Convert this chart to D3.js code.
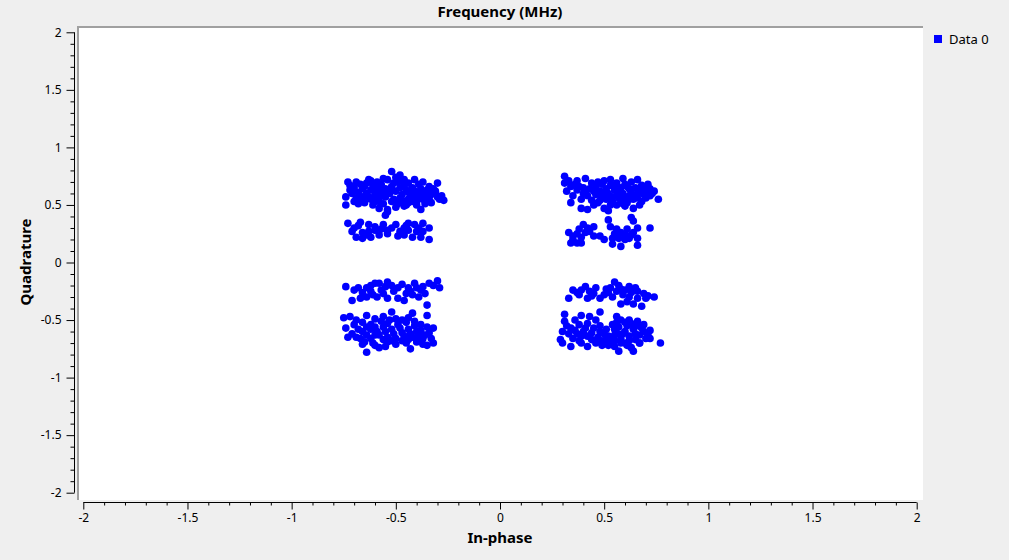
<!DOCTYPE html>
<html><head><meta charset="utf-8">
<script src="https://cdn.jsdelivr.net/npm/d3@7/dist/d3.min.js"></script>
<style>
html,body{margin:0;padding:0;background:#efefef;}
svg{display:block;}
text{font-family:"Noto Sans","DejaVu Sans",sans-serif;fill:#000;}
</style></head><body>
<svg id="chart" width="1009" height="560"></svg>
<script>
// ---- data ----
const title = "Frequency (MHz)";
const xLabel = "In-phase";
const yLabel = "Quadrature";
const seriesName = "Data 0";
const majorTicks = [-2, -1.5, -1, -0.5, 0, 0.5, 1, 1.5, 2];
const tickLabels = ["-2", "-1.5", "-1", "-0.5", "0", "0.5", "1", "1.5", "2"];

// In-phase / Quadrature pairs, grouped by constellation sub-cluster
const clusterTopLeftUpper = [[-0.52,0.79],[-0.48,0.76],[-0.46,0.72],[-0.73,0.70],[-0.74,0.57],[-0.74,0.50],[-0.72,0.63],[-0.69,0.70],[-0.63,0.72],[-0.59,0.70],[-0.54,0.72],[-0.41,0.72],[-0.37,0.70],[-0.30,0.69],[-0.31,0.60],[-0.27,0.54],[-0.30,0.57],[-0.68,0.51],[-0.61,0.50],[-0.58,0.47],[-0.46,0.49],[-0.38,0.46],[-0.40,0.50],[-0.54,0.46],[-0.55,0.41],[-0.54,0.44],
[-0.67,0.68],[-0.64,0.69],[-0.61,0.67],[-0.57,0.68],[-0.51,0.69],[-0.49,0.70],[-0.44,0.69],[-0.39,0.68],[-0.34,0.66],
[-0.70,0.65],[-0.66,0.64],[-0.62,0.63],[-0.58,0.65],[-0.55,0.64],[-0.52,0.66],[-0.48,0.65],[-0.45,0.63],[-0.42,0.65],[-0.38,0.64],[-0.35,0.63],[-0.32,0.64],
[-0.71,0.60],[-0.68,0.61],[-0.64,0.60],[-0.60,0.59],[-0.57,0.61],[-0.53,0.60],[-0.50,0.62],[-0.47,0.59],[-0.44,0.61],[-0.40,0.60],[-0.37,0.61],[-0.33,0.59],[-0.28,0.58],
[-0.69,0.56],[-0.66,0.57],[-0.62,0.55],[-0.58,0.56],[-0.55,0.57],[-0.51,0.55],[-0.48,0.56],[-0.44,0.55],[-0.41,0.57],[-0.37,0.55],[-0.34,0.56],
[-0.70,0.53],[-0.65,0.52],[-0.60,0.53],[-0.56,0.51],[-0.52,0.53],[-0.49,0.51],[-0.44,0.52],[-0.40,0.53],[-0.36,0.51],[-0.33,0.52],
[-0.50,0.74],[-0.56,0.73],[-0.45,0.50],[-0.50,0.48],[-0.62,0.71],
[-0.72,0.67],[-0.65,0.66],[-0.59,0.62],[-0.55,0.60],[-0.46,0.67],[-0.43,0.58],[-0.39,0.57],[-0.36,0.59],[-0.31,0.62],[-0.63,0.57],[-0.53,0.63],[-0.47,0.54],[-0.42,0.53],[-0.58,0.53],[-0.67,0.54],[-0.35,0.54],[-0.48,0.72],[-0.60,0.65],[-0.41,0.62],[-0.29,0.55]];
const clusterTopLeftLower = [[-0.73,0.34],[-0.70,0.30],[-0.67,0.35],[-0.69,0.22],[-0.66,0.21],[-0.63,0.33],[-0.63,0.27],[-0.60,0.28],[-0.56,0.33],[-0.54,0.28],[-0.58,0.24],[-0.50,0.33],[-0.48,0.27],[-0.46,0.24],[-0.44,0.34],[-0.41,0.33],[-0.40,0.27],[-0.42,0.22],[-0.37,0.34],[-0.37,0.27],[-0.34,0.30],[-0.34,0.20],[-0.38,0.22],[-0.54,0.25],[-0.46,0.30],
[-0.66,0.26],[-0.62,0.22],[-0.52,0.30],[-0.44,0.28],[-0.71,0.27],[-0.57,0.29],[-0.49,0.23],
[-0.68,0.32],[-0.60,0.31],[-0.45,0.32],[-0.39,0.30],[-0.64,0.24]];
const clusterTopRightUpper = [[0.31,0.75],[0.31,0.69],[0.32,0.62],[0.35,0.58],[0.34,0.52],[0.37,0.71],[0.41,0.73],[0.44,0.69],[0.40,0.65],[0.39,0.47],[0.42,0.46],[0.45,0.50],[0.50,0.47],[0.52,0.45],[0.50,0.71],[0.53,0.72],[0.59,0.73],[0.66,0.72],[0.71,0.68],[0.74,0.62],[0.76,0.55],[0.70,0.56],[0.67,0.50],[0.64,0.47],[0.60,0.49],[0.56,0.50],
[0.34,0.66],[0.37,0.63],[0.43,0.64],[0.46,0.66],[0.49,0.68],[0.53,0.67],[0.56,0.69],[0.60,0.68],[0.63,0.70],[0.68,0.67],
[0.36,0.68],[0.48,0.62],[0.51,0.64],[0.55,0.63],[0.58,0.65],[0.62,0.64],[0.65,0.65],[0.69,0.63],[0.72,0.64],
[0.42,0.58],[0.46,0.59],[0.49,0.57],[0.52,0.60],[0.56,0.58],[0.59,0.60],[0.62,0.58],[0.66,0.60],[0.69,0.59],[0.72,0.58],
[0.39,0.55],[0.44,0.54],[0.47,0.52],[0.51,0.55],[0.54,0.53],[0.58,0.54],[0.61,0.52],[0.64,0.55],[0.68,0.53],
[0.40,0.60],[0.57,0.56],[0.63,0.61],[0.53,0.50],
[0.47,0.70],[0.55,0.66],[0.61,0.66],[0.67,0.63],[0.70,0.61],[0.64,0.58],[0.60,0.56],[0.54,0.57],[0.50,0.60],[0.45,0.62],[0.41,0.61],[0.38,0.66],[0.33,0.71],[0.57,0.62],[0.66,0.56],[0.62,0.55],[0.48,0.54],[0.73,0.60],[0.59,0.51],[0.70,0.65]];
const clusterTopRightLower = [[0.52,0.37],[0.63,0.39],[0.64,0.36],[0.53,0.31],[0.40,0.33],[0.38,0.29],[0.33,0.26],[0.35,0.23],[0.34,0.17],[0.37,0.17],[0.39,0.17],[0.42,0.30],[0.45,0.31],[0.45,0.23],[0.48,0.23],[0.50,0.20],[0.54,0.21],[0.54,0.16],[0.56,0.29],[0.58,0.26],[0.57,0.21],[0.58,0.14],[0.61,0.29],[0.62,0.21],[0.66,0.30],[0.66,0.21],[0.66,0.15],[0.72,0.30],[0.60,0.24],
[0.37,0.25],[0.41,0.26],[0.64,0.26],[0.55,0.25],
[0.35,0.20],[0.43,0.27],[0.60,0.20],[0.63,0.24],[0.56,0.23],[0.39,0.22]];
const clusterBottomLeftUpper = [[-0.74,-0.21],[-0.71,-0.33],[-0.70,-0.24],[-0.67,-0.31],[-0.64,-0.22],[-0.62,-0.20],[-0.61,-0.28],[-0.58,-0.18],[-0.54,-0.17],[-0.57,-0.24],[-0.54,-0.31],[-0.51,-0.25],[-0.49,-0.22],[-0.49,-0.31],[-0.46,-0.33],[-0.44,-0.22],[-0.42,-0.28],[-0.41,-0.18],[-0.38,-0.24],[-0.36,-0.27],[-0.34,-0.18],[-0.30,-0.16],[-0.29,-0.22],[-0.35,-0.37],[-0.60,-0.18],
[-0.66,-0.26],[-0.59,-0.30],[-0.52,-0.20],[-0.45,-0.27],[-0.40,-0.22],[-0.56,-0.27],[-0.47,-0.19],[-0.64,-0.30],[-0.39,-0.30],
[-0.68,-0.22],[-0.62,-0.25],[-0.55,-0.21],[-0.43,-0.25],[-0.37,-0.21],[-0.32,-0.20]];
const clusterBottomLeftLower = [[-0.75,-0.48],[-0.72,-0.47],[-0.64,-0.46],[-0.74,-0.57],[-0.73,-0.65],[-0.52,-0.43],[-0.42,-0.44],[-0.35,-0.46],[-0.64,-0.78],[-0.60,-0.72],[-0.45,-0.70],[-0.43,-0.75],[-0.35,-0.72],[-0.32,-0.57],[-0.33,-0.66],[-0.32,-0.70],[-0.55,-0.73],
[-0.70,-0.54],[-0.66,-0.52],[-0.62,-0.54],[-0.57,-0.51],[-0.54,-0.53],[-0.49,-0.54],[-0.45,-0.52],[-0.41,-0.51],[-0.38,-0.54],[-0.35,-0.56],
[-0.68,-0.58],[-0.66,-0.60],[-0.62,-0.58],[-0.59,-0.60],[-0.55,-0.60],[-0.52,-0.58],[-0.47,-0.61],[-0.44,-0.58],[-0.40,-0.60],[-0.38,-0.59],[-0.34,-0.61],
[-0.71,-0.62],[-0.67,-0.66],[-0.62,-0.66],[-0.58,-0.63],[-0.54,-0.65],[-0.50,-0.66],[-0.46,-0.64],[-0.42,-0.65],[-0.37,-0.66],
[-0.65,-0.69],[-0.61,-0.70],[-0.54,-0.69],[-0.50,-0.71],[-0.47,-0.68],[-0.40,-0.69],[-0.37,-0.71],[-0.58,-0.74],
[-0.60,-0.49],[-0.50,-0.49],[-0.44,-0.48],[-0.56,-0.47],
[-0.69,-0.50],[-0.64,-0.56],[-0.60,-0.56],[-0.56,-0.56],[-0.51,-0.62],[-0.48,-0.57],[-0.43,-0.62],[-0.39,-0.63],[-0.36,-0.63],[-0.60,-0.63],[-0.56,-0.67],[-0.52,-0.68],[-0.44,-0.67],[-0.41,-0.55],[-0.47,-0.50],[-0.69,-0.65],[-0.64,-0.63],[-0.39,-0.67],[-0.53,-0.50],[-0.66,-0.71]];
const clusterBottomRightUpper = [[0.33,-0.31],[0.35,-0.24],[0.38,-0.28],[0.41,-0.21],[0.42,-0.31],[0.43,-0.25],[0.46,-0.22],[0.48,-0.31],[0.50,-0.28],[0.53,-0.22],[0.55,-0.17],[0.56,-0.25],[0.58,-0.36],[0.60,-0.24],[0.62,-0.30],[0.65,-0.22],[0.64,-0.36],[0.69,-0.27],[0.68,-0.38],[0.74,-0.30],[0.54,-0.30],[0.48,-0.43],
[0.57,-0.20],[0.59,-0.28],[0.63,-0.26],[0.66,-0.31],[0.71,-0.29],[0.61,-0.34],[0.39,-0.24],[0.45,-0.27],[0.52,-0.26],
[0.37,-0.26],[0.44,-0.29],[0.51,-0.23],[0.58,-0.23],[0.66,-0.25],[0.70,-0.31],[0.62,-0.21]];
const clusterBottomRightLower = [[0.31,-0.45],[0.31,-0.51],[0.30,-0.60],[0.29,-0.67],[0.30,-0.70],[0.36,-0.50],[0.39,-0.46],[0.43,-0.47],[0.46,-0.50],[0.56,-0.47],[0.58,-0.50],[0.62,-0.50],[0.66,-0.51],[0.69,-0.54],[0.72,-0.59],[0.72,-0.66],[0.77,-0.70],[0.67,-0.70],[0.64,-0.77],[0.57,-0.77],[0.55,-0.73],[0.61,-0.72],[0.49,-0.72],[0.42,-0.73],[0.34,-0.73],
[0.34,-0.57],[0.35,-0.66],[0.39,-0.70],[0.40,-0.60],[0.45,-0.57],[0.44,-0.67],[0.50,-0.62],[0.51,-0.67],[0.54,-0.54],[0.55,-0.63],[0.60,-0.60],[0.67,-0.63],[0.67,-0.70],
[0.38,-0.54],[0.42,-0.53],[0.48,-0.55],[0.51,-0.58],[0.57,-0.56],[0.61,-0.55],[0.64,-0.58],[0.69,-0.60],
[0.37,-0.62],[0.42,-0.64],[0.47,-0.65],[0.53,-0.68],[0.58,-0.66],[0.62,-0.64],[0.65,-0.67],[0.70,-0.66],
[0.33,-0.62],[0.60,-0.70],[0.52,-0.72],[0.46,-0.70],[0.55,-0.58],[0.63,-0.53],[0.59,-0.62],
[0.32,-0.55],[0.36,-0.59],[0.39,-0.64],[0.41,-0.57],[0.44,-0.61],[0.48,-0.60],[0.52,-0.64],[0.56,-0.61],[0.58,-0.70],[0.62,-0.68],[0.65,-0.62],[0.68,-0.57],[0.71,-0.63],[0.63,-0.74],[0.56,-0.52],[0.60,-0.52],[0.66,-0.55],[0.38,-0.68],[0.49,-0.68],[0.55,-0.68]];

const points = [].concat(clusterTopLeftUpper, clusterTopLeftLower, clusterTopRightUpper, clusterTopRightLower,
  clusterBottomLeftUpper, clusterBottomLeftLower, clusterBottomRightUpper, clusterBottomRightLower);

// ---- layout ----
const svg = d3.select("#chart");
const x = d3.scaleLinear().domain([-2, 2]).range([83.3, 916.7]);
const y = d3.scaleLinear().domain([-2, 2]).range([492.7, 32.3]);
const minorTicks = d3.range(-20, 21).map(d => d / 10).filter(v => !majorTicks.some(m => Math.abs(m - v) < 1e-9));

// canvas
svg.append("rect").attr("x", 77).attr("y", 26).attr("width", 846).attr("height", 474).attr("fill", "#fff");
svg.append("rect").attr("x", 77).attr("y", 26).attr("width", 846).attr("height", 2).attr("fill", "#a0a0a0");
svg.append("rect").attr("x", 77).attr("y", 26).attr("width", 2).attr("height", 474).attr("fill", "#a0a0a0");

// points
svg.append("g").selectAll("circle").data(points).join("circle")
  .attr("cx", d => x(d[0])).attr("cy", d => y(d[1])).attr("r", 3.8).attr("fill", "#0000ff");

// y axis
const fmt = d => tickLabels[majorTicks.indexOf(d)];
const gy = svg.append("g").attr("transform", "translate(74.5,0)");
gy.call(d3.axisLeft(y).tickValues(majorTicks).tickFormat(fmt).tickSize(8).tickPadding(5));
gy.append("g").call(d3.axisLeft(y).tickValues(minorTicks).tickFormat("").tickSize(4)).select(".domain").remove();
gy.select(".domain").attr("d", `M0,${y(2)}V${y(-2)}`);
gy.selectAll("text").style("font-size", "12px").style("font-family", '"Noto Sans",sans-serif');
gy.selectAll("line,path").attr("stroke", "#000");

// x axis
const gx = svg.append("g").attr("transform", "translate(0,502.5)");
gx.call(d3.axisBottom(x).tickValues(majorTicks).tickFormat(fmt).tickSize(7).tickPadding(4));
gx.append("g").call(d3.axisBottom(x).tickValues(minorTicks).tickFormat("").tickSize(3)).select(".domain").remove();
gx.select(".domain").attr("d", `M${x(-2)},0H${x(2)}`);
gx.selectAll("text").style("font-size", "12px").style("font-family", '"Noto Sans",sans-serif');
gx.selectAll("line,path").attr("stroke", "#000");

// titles
svg.append("text").attr("x", 500).attr("y", 17).attr("text-anchor", "middle")
  .style("font-weight", "bold").style("font-size", "15px").text(title);
svg.append("text").attr("x", 500).attr("y", 543).attr("text-anchor", "middle")
  .style("font-weight", "bold").style("font-size", "15px").text(xLabel);
svg.append("text").attr("transform", "translate(31,262) rotate(-90)").attr("text-anchor", "middle")
  .style("font-weight", "bold").style("font-size", "15px").text(yLabel);

// legend
const leg = svg.append("g").attr("transform", "translate(934,35)");
leg.append("rect").attr("width", 8).attr("height", 8).attr("fill", "#0000ff");
leg.append("text").attr("x", 15).attr("y", 8.5).style("font-size", "13px").text(seriesName);
</script>
</body></html>
